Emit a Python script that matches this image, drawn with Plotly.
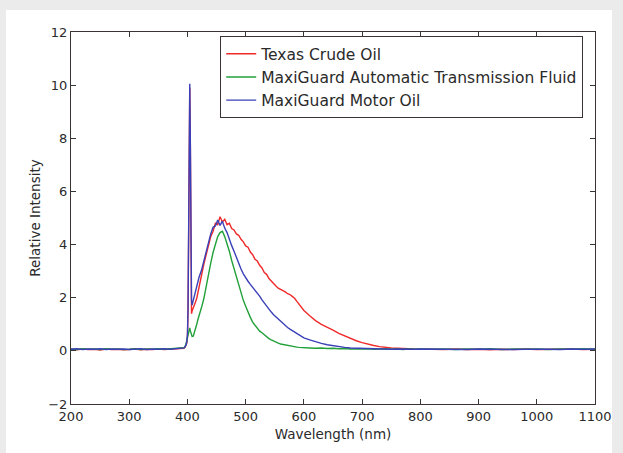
import plotly.graph_objects as go

# ---------------- data ----------------
wavelength = [
    200, 210, 220, 230, 240, 250, 260, 270, 280, 290, 300, 310, 320, 330, 340, 350, 360, 370, 380, 390,
    392, 394, 396, 398, 399, 400, 401, 402, 403, 404, 405, 406, 407, 408,
    410, 412, 414, 416, 418, 420,
    424, 428, 432, 436, 440, 444, 448, 452, 456, 460, 464, 468, 472, 476, 480,
    484, 488, 492, 496, 500, 504, 508, 512, 516, 520, 524, 528, 532, 536, 540,
    544, 548, 552, 556, 560, 564, 568, 572, 576, 580, 584, 588, 592, 596, 600,
    610, 620, 630, 640, 650, 660, 670, 680, 690, 700, 710, 720, 730, 740, 750, 760, 770, 780, 790, 800,
    820, 840, 860, 880, 900, 920, 940, 960, 980, 1000, 1020, 1040, 1060, 1080, 1100,
]

texas_crude = [
    0.06, 0.04, 0.07, 0.05, 0.06, 0.03, 0.07, 0.05, 0.06, 0.04, 0.05, 0.07, 0.04, 0.06, 0.05, 0.07, 0.05, 0.06, 0.08, 0.07,
    0.08, 0.10, 0.14, 0.22, 0.30, 0.50, 1.5, 4.1, 7.5, 9.9, 7.7, 3.7, 1.4, 1.5,
    1.6, 1.72, 1.85, 1.98, 2.2, 2.4,
    2.85, 3.25, 3.6, 3.95, 4.3, 4.5, 4.8, 4.75, 5.05, 4.85, 4.95, 4.75, 4.8, 4.6, 4.55,
    4.4, 4.35, 4.2, 4.1, 3.95, 3.9, 3.72, 3.62, 3.45, 3.38, 3.22, 3.12, 2.95, 2.88, 2.72,
    2.62, 2.5, 2.44, 2.36, 2.32, 2.25, 2.22, 2.15, 2.12, 2.05, 1.98, 1.86, 1.76, 1.62, 1.52,
    1.32, 1.14, 1.0, 0.9, 0.78, 0.66, 0.56, 0.46, 0.38, 0.31, 0.25, 0.2, 0.16, 0.13, 0.11, 0.1, 0.08, 0.08, 0.07, 0.06,
    0.06, 0.05, 0.07, 0.05, 0.06, 0.04, 0.06, 0.05, 0.07, 0.05, 0.06, 0.05, 0.07, 0.05, 0.06,
]

transmission_fluid = [
    0.07, 0.05, 0.08, 0.06, 0.07, 0.05, 0.08, 0.06, 0.07, 0.05, 0.06, 0.08, 0.05, 0.07, 0.06, 0.08, 0.06, 0.07, 0.08, 0.09,
    0.10, 0.12, 0.16, 0.28, 0.38, 0.50, 0.62, 0.74, 0.82, 0.86, 0.75, 0.64, 0.56, 0.54,
    0.55, 0.68, 0.84, 1.0, 1.18, 1.36,
    1.62, 1.95, 2.45, 2.85, 3.3, 3.7, 4.05, 4.3, 4.45, 4.5, 4.3, 4.05, 3.75, 3.4, 3.1,
    2.75, 2.45, 2.18, 1.9, 1.68, 1.45, 1.26, 1.08, 0.95, 0.84, 0.74, 0.68, 0.6, 0.52, 0.46,
    0.41, 0.36, 0.32, 0.29, 0.26, 0.24, 0.22, 0.2, 0.18, 0.17, 0.16, 0.14, 0.13, 0.13, 0.12,
    0.11, 0.10, 0.11, 0.09, 0.10, 0.08, 0.09, 0.07, 0.08, 0.07, 0.08, 0.06, 0.07, 0.08, 0.06, 0.07, 0.05, 0.07, 0.06, 0.07,
    0.06, 0.07, 0.05, 0.07, 0.06, 0.08, 0.05, 0.07, 0.06, 0.07, 0.05, 0.07, 0.06, 0.08, 0.06,
]

motor_oil = [
    0.06, 0.08, 0.05, 0.07, 0.06, 0.08, 0.05, 0.07, 0.06, 0.07, 0.05, 0.06, 0.08, 0.05, 0.07, 0.06, 0.08, 0.06, 0.07, 0.08,
    0.09, 0.11, 0.15, 0.25, 0.38, 0.60, 1.6, 4.2, 7.6, 10.05, 7.8, 3.8, 1.9, 1.72,
    1.9, 2.12, 2.3, 2.45, 2.6, 2.78,
    3.02, 3.38, 3.8, 4.15, 4.4, 4.65, 4.7, 4.92, 4.72, 4.88, 4.62, 4.45, 4.18, 3.96, 3.75,
    3.52, 3.28, 3.08, 2.9, 2.74, 2.62, 2.5, 2.4, 2.3, 2.2, 2.06, 1.92, 1.8, 1.67, 1.56,
    1.46, 1.36, 1.28, 1.19, 1.1, 1.04, 0.96, 0.88, 0.82, 0.76, 0.7, 0.64, 0.58, 0.54, 0.49,
    0.41, 0.34, 0.28, 0.23, 0.19, 0.16, 0.13, 0.11, 0.10, 0.09, 0.08, 0.07, 0.08, 0.07, 0.06, 0.07, 0.06, 0.07, 0.06, 0.07,
    0.06, 0.07, 0.06, 0.05, 0.07, 0.06, 0.07, 0.05, 0.06, 0.07, 0.06, 0.05, 0.07, 0.06, 0.07,
]

series_names = ["Texas Crude Oil", "MaxiGuard Automatic Transmission Fluid", "MaxiGuard Motor Oil"]
series_values = [texas_crude, transmission_fluid, motor_oil]
series_colors = ["#f02a2a", "#22a03a", "#3a40b8"]

x_ticks = [200, 300, 400, 500, 600, 700, 800, 900, 1000, 1100]
y_ticks = [-2, 0, 2, 4, 6, 8, 10, 12]

for vals in series_values:
    assert len(vals) == len(wavelength), (len(vals), len(wavelength))

# ---------------- layout geometry (pixels) ----------------
W, H = 623, 453
L, R, T, B = 71, 595, 32, 404
pw, ph = R - L, B - T

def px_x(px):
    return (px - L) / pw

def px_y(py):
    return (B - py) / ph

fig = go.Figure()
for i, (name, vals, col) in enumerate(zip(series_names, series_values, series_colors)):
    fig.add_trace(go.Scatter(
        x=wavelength, y=vals, mode="lines", name=name,
        line=dict(color=col, width=1.4), legendgroup=f"g{i}",
    ))

font = "DejaVu Sans, Bitstream Vera Sans, sans-serif"

axis_common = dict(
    showline=True, linecolor="#3a3333", linewidth=1.2, mirror="allticks",
    ticks="inside", ticklen=5, tickwidth=1, tickcolor="#3a3333",
    showgrid=False, zeroline=False,
    tickfont=dict(family=font, size=13, color="#2a2a2a"),
)

fig.update_layout(
    width=W, height=H,
    margin=dict(l=L, r=W - R, t=T, b=H - B),
    paper_bgcolor="#ebebeb",
    plot_bgcolor="white",
    showlegend=True,
    legend=dict(
        x=px_x(583), xanchor="right", y=px_y(36), yanchor="top",
        bordercolor="#3a3333", borderwidth=1.2, bgcolor="white",
        font=dict(family=font, size=15.5, color="#2a2a2a"),
        tracegroupgap=0, itemwidth=30,
    ),
    xaxis=dict(
        range=[200, 1100], tickvals=x_ticks,
        title=dict(text="Wavelength (nm)", font=dict(family=font, size=13.5, color="#2a2a2a"), standoff=6),
        **axis_common,
    ),
    yaxis=dict(
        range=[-2, 12], tickvals=y_ticks,
        title=dict(text="Relative Intensity", font=dict(family=font, size=13.5, color="#2a2a2a"), standoff=4),
        **axis_common,
    ),
    shapes=[dict(
        type="rect", xref="paper", yref="paper", layer="below",
        x0=px_x(6), x1=px_x(612), y0=px_y(453), y1=px_y(10),
        fillcolor="white", line=dict(width=0),
    )],
)

fig.write_html(
    "out.html",
    config={"displayModeBar": False},
    post_script="document.body.style.margin='0';",
)
